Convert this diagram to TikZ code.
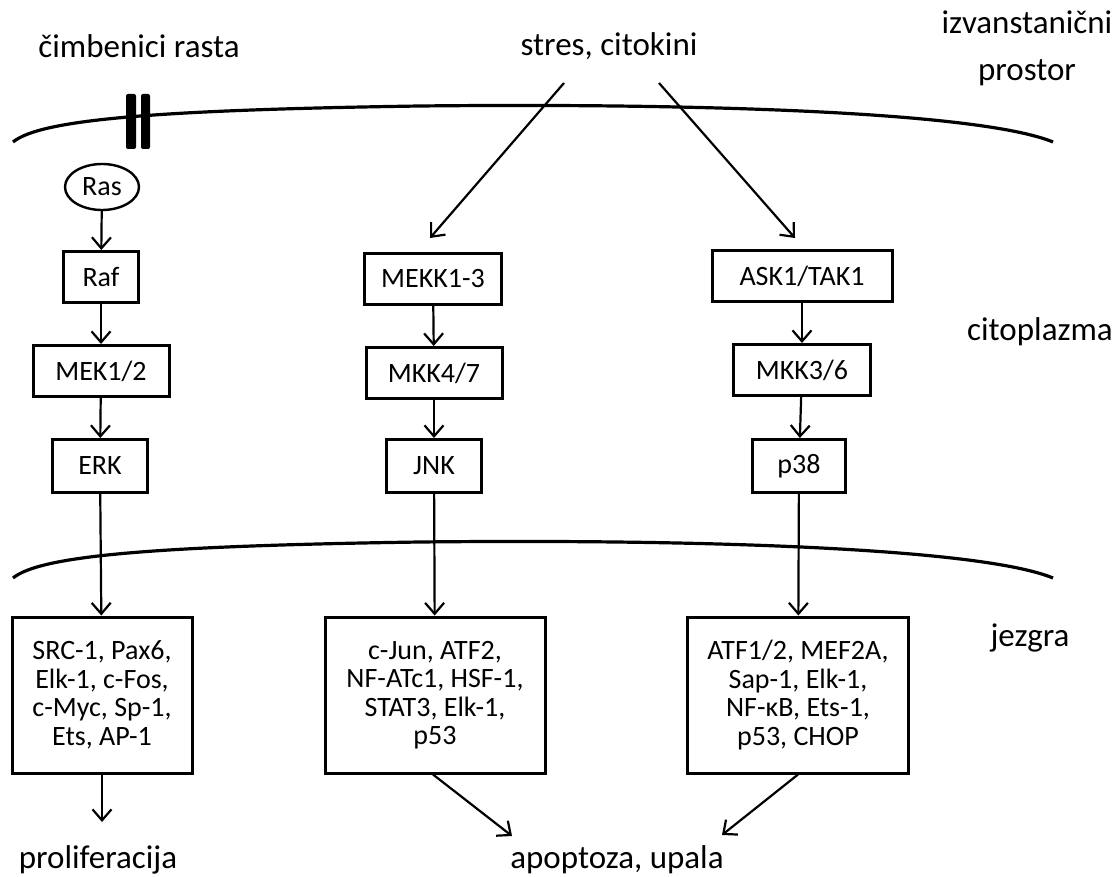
\documentclass[tikz,border=0pt]{standalone}
\usepackage{fontspec}
\setmainfont{Carlito}
\usetikzlibrary{arrows.meta,shapes.geometric}

\begin{document}
\begin{tikzpicture}[x=1pt,y=-1pt,
    box/.style={draw,line width=3pt,inner sep=0pt,minimum height=51pt,align=center,font=\fontsize{28}{28.5}\selectfont},
    bigbox/.style={box,minimum height=156pt},
    lbl/.style={inner sep=0pt,align=center,font=\fontsize{33}{47}\selectfont},
    arr/.style={line width=2.2pt,-{Straight Barb[length=11pt,width=19pt]}},
    membrane/.style={line width=3.2pt}]
    \useasboundingbox (0,0) rectangle (1113,877);

    % Compartment labels
    \node[lbl,anchor=base] (growth) at (139,58) {čimbenici rasta};
    \node[lbl,anchor=base] (stress) at (609,56) {stres, citokini};
    \node[lbl] (extra) at (1027,48) {izvanstanični\\prostor};
    \node[lbl,anchor=base] (cyto) at (1040,340) {citoplazma};
    \node[lbl,anchor=base] (nucl) at (1030,646) {jezgra};
    \node[lbl,anchor=base] (prolif) at (98,868) {proliferacija};
    \node[lbl,anchor=base] (apopt) at (617,868) {apoptoza, upala};

    % Cell membrane with receptor
    \draw[membrane] (13,142) .. controls (40,120) and (150,110) .. (420,106) .. controls (700,103) and (980,112) .. (1053,142);
    \fill[rounded corners=2pt] (126,94) rectangle (136,149);
    \fill[rounded corners=2pt] (141,94) rectangle (150,149);
    % Nuclear membrane
    \draw[membrane] (13,578) .. controls (40,556) and (150,546) .. (420,542) .. controls (700,539) and (980,548) .. (1053,578);

    % ERK pathway
    \node[box,ellipse,line width=2.4pt,minimum width=74pt,minimum height=46pt] (ras) at (102,187) {Ras};
    \node[box,minimum width=75pt] (raf) at (101,277) {Raf};
    \node[box,minimum width=136pt] (mek) at (101,371) {MEK1/2};
    \node[box,minimum width=95pt,minimum height=53pt] (erk) at (100,466) {ERK};
    \node[bigbox,minimum width=180pt] (src) at (102,695) {SRC-1, Pax6,\\Elk-1, c-Fos,\\c-Myc, Sp-1,\\Ets, AP-1};

    % JNK pathway
    \node[box,minimum width=137pt] (mekk) at (433,279) {MEKK1-3};
    \node[box,minimum width=136pt] (mkk47) at (434,373) {MKK4/7};
    \node[box,minimum width=95pt,minimum height=53pt] (jnk) at (434,466) {JNK};
    \node[bigbox,minimum width=220pt] (cjun) at (435,695) {c-Jun, ATF2,\\NF-ATc1, HSF-1,\\STAT3, Elk-1,\\p53};

    % p38 pathway
    \node[box,minimum width=180pt] (ask) at (802,276) {ASK1/TAK1};
    \node[box,minimum width=137pt] (mkk36) at (802,370) {MKK3/6};
    \node[box,minimum width=93pt,minimum height=53pt] (p38) at (799,466) {p38};
    \node[bigbox,minimum width=221pt] (atf) at (798,695) {ATF1/2, MEF2A,\\Sap-1, Elk-1,\\NF-κB, Ets-1,\\p53, CHOP};

    % Free arrow ends
    \coordinate (s1) at (564,83);
    \coordinate (s2) at (659,83);
    \coordinate (t1) at (430,238);
    \coordinate (t2) at (795,238);
    \coordinate (p1) at (102,822);
    \coordinate (a1) at (512,836);
    \coordinate (a2) at (722,835);

    % Arrows
    \draw[arr] (ras) -- (raf);
    \draw[arr] (raf) -- (mek);
    \draw[arr] (mek) -- (erk);
    \draw[arr] (erk) -- (src);
    \draw[arr] (src) -- (p1);
    \draw[arr] (s1) -- (t1);
    \draw[arr] (mekk) -- (mkk47);
    \draw[arr] (mkk47) -- (jnk);
    \draw[arr] (jnk) -- (cjun);
    \draw[arr] ([xshift=-2pt]cjun.south) -- (a1);
    \draw[arr] (s2) -- (t2);
    \draw[arr] (ask) -- (mkk36);
    \draw[arr] (mkk36) -- (p38);
    \draw[arr] (p38) -- (atf);
    \draw[arr] (atf.south) -- (a2);
\end{tikzpicture}
\end{document}
